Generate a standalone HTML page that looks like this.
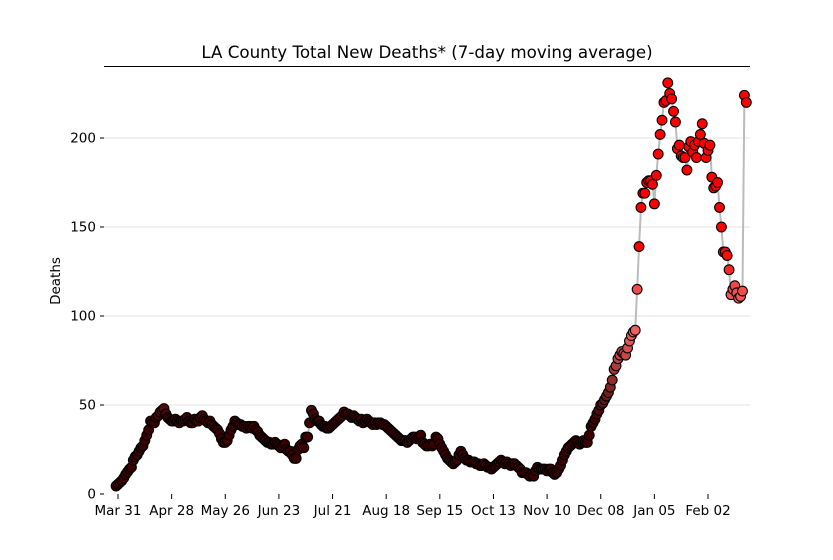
<!DOCTYPE html>
<html><head><meta charset="utf-8"><style>
body{margin:0;background:#fff;}
svg text{font-family:"DejaVu Sans","Liberation Sans",sans-serif;}
</style></head><body>
<svg id="chart" width="833" height="555" xmlns="http://www.w3.org/2000/svg">
<rect width="833" height="555" fill="#fff"/>
<g id="grid"></g>
<line x1="104" y1="66.5" x2="750" y2="66.5" stroke="#000" stroke-width="1"/>
<text x="427" y="58" text-anchor="middle" font-size="16.7">LA County Total New Deaths* (7-day moving average)</text>
<text transform="translate(60,281) rotate(-90)" text-anchor="middle" font-size="13.5">Deaths</text>
<g id="axes"></g>
<polyline id="line" fill="none" stroke="#bbb" stroke-width="2"/>
<g id="pts"></g>
</svg>
<script>
const xTickLabels=["Mar 31","Apr 28","May 26","Jun 23","Jul 21","Aug 18","Sep 15","Oct 13","Nov 10","Dec 08","Jan 05","Feb 02"];
const xTickDays=[0,28,56,84,112,140,168,196,224,252,280,308];
const yTicks=[0,50,100,150,200];
const startDay=-1;
const deaths=[
4.5,5.5,6.5,7.5,9,11,12.5,14,15,19,
21,22,24,26,27,30,33,36,41,40,
40,43,44,46,47,48,45,43,42,41,
41,42,41,40,41,41,42,43,41,40,
40,42,41,41,43,44,42,41,40,41,
39,38,37,36,34,31,29,29,30,33,
36,38,41,40,39,39,38,38,37,38,
38,37,38,36,35,33,32,31,30,29,
29,28,28,29,28,27,26,27,28,25,
24,24,22,20,20,25,27,28,26,32,
32,40,47,45,42,41,41,39,38,38,
37,37,38,39,40,41,42,43,44,46,
45,45,44,43,44,43,42,41,42,40,
41,42,41,40,39,40,39,40,40,39,
39,38,37,36,35,34,33,32,31,30,
30,30,29,30,31,32,32,31,32,33,
29,28,27,27,28,27,28,32,31,28,
26,24,22,20,19,18,17,18,19,22,
24,22,20,19,19,18,18,18,17,17,
16,16,17,16,15,15,14,15,16,17,
18,19,18,17,18,17,16,17,17,16,
15,14,12,12,12,11,10,11,10,13,
15,14,14,14,14,13,14,14,12,11,
12,14,16,19,22,24,26,27,28,29,
30,29,28,29,30,29,29,33,38,40,
42,45,47,50,51,53,55,57,60,64,
70,72,76,78,80,79,78,82,86,89,
91,92,115,139,161,169,169,175,176,176,
174,163,179,191,202,210,220,221,231,225,
222,215,209,194,196,190,189,189,182,195,
198,192,196,189,198,202,208,197,189,193,
196,178,172,173,175,161,150,136,136,134,
126,112,115,117,113,110,111,114,224,220
];
const X0=118,PX=1.9156;
function xs(d){return X0+d*PX;}
function ys(v){return 494-v*1.78;}
const NS="http://www.w3.org/2000/svg";
const grid=document.getElementById('grid'),axes=document.getElementById('axes');
yTicks.forEach(t=>{
 const l=document.createElementNS(NS,'line');
 l.setAttribute('x1',104);l.setAttribute('x2',750);l.setAttribute('y1',ys(t));l.setAttribute('y2',ys(t));
 l.setAttribute('stroke',t===0?'#fff':'#e3e3e3');l.setAttribute('stroke-width',1);
 
 
 grid.appendChild(l);
 const tk=document.createElementNS(NS,'line');
 tk.setAttribute('x1',100);tk.setAttribute('x2',104);tk.setAttribute('y1',ys(t));tk.setAttribute('y2',ys(t));
 tk.setAttribute('stroke','#000');
 
 
 axes.appendChild(tk);
 const tx=document.createElementNS(NS,'text');
 tx.setAttribute('x',96);tx.setAttribute('y',ys(t)+4.5);tx.setAttribute('text-anchor','end');tx.setAttribute('font-size','13.5');
 tx.textContent=t;
 
 
 axes.appendChild(tx);
});
xTickDays.forEach((d,i)=>{
 const tk=document.createElementNS(NS,'line');
 tk.setAttribute('x1',xs(d));tk.setAttribute('x2',xs(d));tk.setAttribute('y1',494);tk.setAttribute('y2',499);
 tk.setAttribute('stroke','#000');
 
 
 axes.appendChild(tk);
 const tx=document.createElementNS(NS,'text');
 tx.setAttribute('x',xs(d));tx.setAttribute('y',515);tx.setAttribute('text-anchor','middle');tx.setAttribute('font-size','13.5');
 tx.textContent=xTickLabels[i];
 
 
 axes.appendChild(tx);
});
function lerp(a,b,t){return Math.round(a+(b-a)*t);}
function col(v){
 if(v<110){const t=Math.max(0,Math.min(1,(v-42)/48));return `rgb(${lerp(60,240,t)},${lerp(0,96,t)},${lerp(0,96,t)})`;}
 const t=Math.max(0,Math.min(1,(v-110)/28));return `rgb(${lerp(240,255,t)},${lerp(90,0,t)},${lerp(90,0,t)})`;
}
document.getElementById('line').setAttribute('points',deaths.map((v,i)=>xs(startDay+i)+','+ys(v)).join(' '));
const pts=document.getElementById('pts');
deaths.forEach((v,i)=>{
 const c=document.createElementNS(NS,'circle');
 c.setAttribute('cx',xs(startDay+i));c.setAttribute('cy',ys(v));c.setAttribute('r',4.9);
 c.setAttribute('fill',col(v));c.setAttribute('stroke','#000');c.setAttribute('stroke-width',1.1);
 
 
 pts.appendChild(c);
});
</script>
</body></html>
